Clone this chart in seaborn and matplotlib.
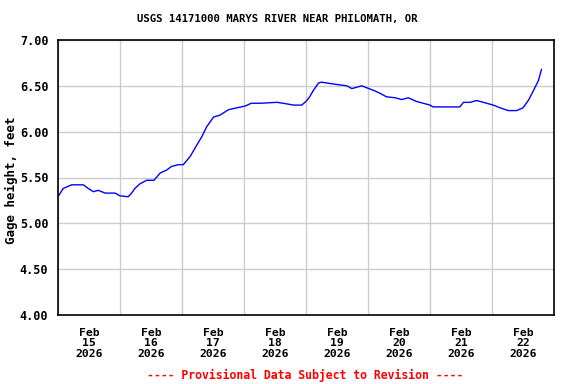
import matplotlib
matplotlib.use("Agg")
import matplotlib.pyplot as plt
import matplotlib.dates as mdates
import seaborn as sns
import pandas as pd

# Gage height readings (time, feet)
times = [
    "2026-02-15 00:00", "2026-02-15 02:00", "2026-02-15 05:15", "2026-02-15 09:50",
    "2026-02-15 11:45", "2026-02-15 13:40", "2026-02-15 15:35", "2026-02-15 18:15",
    "2026-02-15 22:05", "2026-02-16 00:00", "2026-02-16 03:10", "2026-02-16 04:30",
    "2026-02-16 05:45", "2026-02-16 07:40", "2026-02-16 10:20", "2026-02-16 13:10",
    "2026-02-16 15:35", "2026-02-16 18:00", "2026-02-16 19:55", "2026-02-16 22:35",
    "2026-02-17 00:30", "2026-02-17 03:10", "2026-02-17 05:45", "2026-02-17 07:40",
    "2026-02-17 09:35", "2026-02-17 12:15", "2026-02-17 14:40", "2026-02-17 18:00",
    "2026-02-18 00:30", "2026-02-18 02:50", "2026-02-18 06:15", "2026-02-18 12:45",
    "2026-02-18 15:10", "2026-02-18 19:10", "2026-02-18 22:20", "2026-02-19 00:00",
    "2026-02-19 01:25", "2026-02-19 02:50", "2026-02-19 04:50", "2026-02-19 06:00",
    "2026-02-19 10:35", "2026-02-19 15:50", "2026-02-19 17:45", "2026-02-19 21:35",
    "2026-02-20 02:10", "2026-02-20 04:35", "2026-02-20 07:10", "2026-02-20 10:35",
    "2026-02-20 13:00", "2026-02-20 15:35", "2026-02-20 18:45", "2026-02-21 00:00",
    "2026-02-21 01:10", "2026-02-21 11:30", "2026-02-21 13:00", "2026-02-21 15:35",
    "2026-02-21 18:00", "2026-02-21 20:40", "2026-02-22 00:30", "2026-02-22 03:10",
    "2026-02-22 06:15", "2026-02-22 09:35", "2026-02-22 12:00", "2026-02-22 14:10",
    "2026-02-22 16:05", "2026-02-22 18:00", "2026-02-22 19:10",
]
gage_ft = [
    5.29, 5.38, 5.42, 5.42, 5.38, 5.345, 5.36, 5.33,
    5.33, 5.30, 5.29, 5.33, 5.38, 5.43, 5.47, 5.47,
    5.55, 5.58, 5.62, 5.64, 5.64, 5.73, 5.855, 5.945,
    6.055, 6.16, 6.18, 6.24, 6.28, 6.31, 6.31, 6.32,
    6.31, 6.29, 6.29, 6.33, 6.38, 6.45, 6.53, 6.54,
    6.52, 6.50, 6.47, 6.50, 6.45, 6.42, 6.38, 6.37,
    6.35, 6.37, 6.33, 6.29, 6.27, 6.27, 6.32, 6.32,
    6.34, 6.32, 6.29, 6.26, 6.23, 6.23, 6.26, 6.345,
    6.45, 6.56, 6.68,
]
y_ticks = [4.00, 4.50, 5.00, 5.50, 6.00, 6.50, 7.00]

df = pd.DataFrame({"time": pd.to_datetime(times), "gage": gage_ft})

sns.set_style("white")
plt.rcParams["font.family"] = ["DejaVu Sans Mono"]
plt.rcParams["font.weight"] = "bold"
plt.rcParams["text.color"] = "black"
plt.rcParams["axes.labelcolor"] = "black"
plt.rcParams["xtick.color"] = "black"
plt.rcParams["ytick.color"] = "black"

fig = plt.figure(figsize=(5.76, 3.84), dpi=100)
ax = fig.add_axes([58 / 576, 69 / 384, 496 / 576, 275 / 384])

sns.lineplot(data=df, x="time", y="gage", ax=ax, color="#0000ff", linewidth=1.0)

ax.set_xlim(pd.Timestamp("2026-02-15"), pd.Timestamp("2026-02-23"))
ax.set_ylim(4.0, 7.0)
ax.set_yticks(y_ticks)
ax.set_yticklabels([f"{v:.2f}" for v in y_ticks], fontsize=8.5, fontweight="bold")

# gridlines at midnight, labels at noon
ax.xaxis.set_major_locator(mdates.DayLocator())
ax.xaxis.set_major_formatter(plt.NullFormatter())
ax.xaxis.set_minor_locator(mdates.HourLocator(byhour=[12]))
ax.xaxis.set_minor_formatter(mdates.DateFormatter("%b\n%d\n%Y"))
for lbl in ax.xaxis.get_minorticklabels():
    lbl.set_fontsize(8.2)
    lbl.set_fontweight("bold")
    lbl.set_linespacing(1.12)

ax.tick_params(axis="both", which="both", length=0, labelcolor="black")
ax.tick_params(axis="x", which="minor", pad=9)
ax.tick_params(axis="y", pad=7)
ax.grid(True, which="major", color="#cccccc", linewidth=1.0)
ax.set_axisbelow(True)
for s in ax.spines.values():
    s.set_color("black")
    s.set_linewidth(1.2)

ax.set_xlabel("")
ax.set_ylabel("Gage height, feet", fontsize=9, fontweight="bold", color="black")
ax.yaxis.set_label_coords(-(58 - 18) / 496, 0.49)

fig.text(277 / 576, 1 - 19 / 384, "USGS 14171000 MARYS RIVER NEAR PHILOMATH, OR",
         ha="center", va="center", fontsize=7.7, fontweight="bold", color="black")
fig.text(305 / 576, 1 - 375 / 384, "---- Provisional Data Subject to Revision ----",
         ha="center", va="center", fontsize=8.3, fontweight="bold", color="#ff0000")

fig.savefig("out.png", dpi=100)
